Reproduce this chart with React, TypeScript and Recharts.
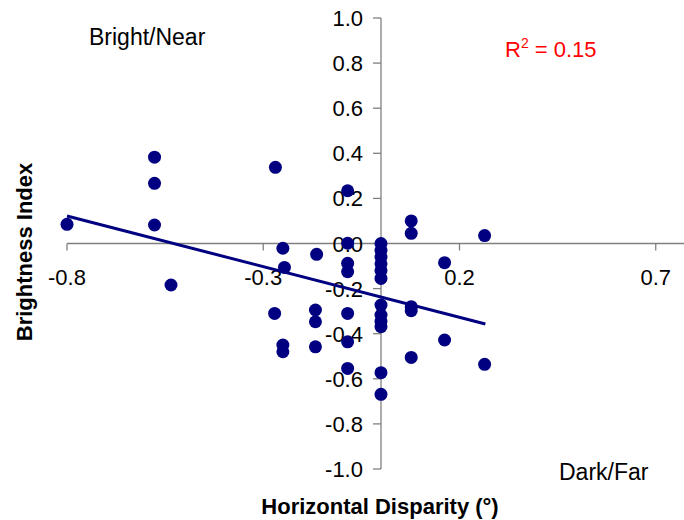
import React from 'react';
import { ScatterChart, Scatter, XAxis, YAxis, ReferenceLine, ReferenceDot } from 'recharts';

const xValues = [
  -0.8, -0.577, -0.577, -0.577, -0.535, -0.269, -0.085, -0.25, -0.164, -0.085,
  -0.246, -0.085, -0.085, 0, 0, 0, 0, 0, 0, 0.077,
  0.077, 0.264, 0.162, 0.077, 0.077, 0, 0, 0, 0, -0.271,
  -0.167, -0.167, -0.085, -0.25, -0.25, -0.167, -0.085, 0.162, 0.077, 0.264,
  -0.085, 0, 0,
];
const yValues = [
  0.085, 0.383, 0.267, 0.082, -0.184, 0.338, 0.234, -0.021, -0.048, 0.001,
  -0.106, -0.088, -0.125, 0.0, -0.03, -0.06, -0.09, -0.12, -0.155, 0.1,
  0.045, 0.035, -0.085, -0.28, -0.298, -0.273, -0.317, -0.345, -0.369, -0.31,
  -0.295, -0.347, -0.31, -0.45, -0.48, -0.458, -0.436, -0.428, -0.505, -0.536,
  -0.554, -0.573, -0.669,
];
const trendX = [-0.8, 0.266];
const trendY = [0.122, -0.357];
const xTicks = [-0.8, -0.3, 0.2, 0.7];
const yTicks = [1.0, 0.8, 0.6, 0.4, 0.2, 0.0, -0.2, -0.4, -0.6, -0.8, -1.0];

const points = xValues.map((x, i) => ({ x, y: yValues[i] }));
const trend = trendX.map((x, i) => ({ x, y: trendY[i] }));

const FONT = 'Arial, "Liberation Sans", sans-serif';
const NAVY = '#000080';
const AXIS = '#808080';

const Dot = (p: any) => <circle cx={p.cx} cy={p.cy} r={6.5} fill={NAVY} />;

export default function App() {
  return (
    <div style={{ position: 'absolute', left: 0, top: 0, width: 684, height: 520, background: '#fff' }}>
      <ScatterChart width={684} height={520} margin={{ top: 18, right: 0, bottom: 51, left: 67 }}>
        <XAxis type="number" dataKey="x" domain={[-0.8, 0.772]} hide />
        <YAxis type="number" dataKey="y" domain={[-1, 1]} hide />
        <ReferenceLine y={0} stroke={AXIS} strokeWidth={1.3} />
        <ReferenceLine x={0} stroke={AXIS} strokeWidth={1.3} />
        {xTicks.map((t) => (
          <ReferenceDot
            key={'xt' + t}
            x={t}
            y={0}
            r={1}
            shape={(p: any) => (
              <g>
                <line x1={p.cx} y1={p.cy} x2={p.cx} y2={p.cy + 7} stroke={AXIS} strokeWidth={1.3} />
                <text x={p.cx} y={p.cy + 41} textAnchor="middle" fontSize={22} fontFamily={FONT} fill="#000">
                  {t.toFixed(1)}
                </text>
              </g>
            )}
          />
        ))}
        {yTicks.map((t) => (
          <ReferenceDot
            key={'yt' + t}
            x={0}
            y={t}
            r={1}
            shape={(p: any) => (
              <g>
                <line x1={p.cx - 8} y1={p.cy} x2={p.cx} y2={p.cy} stroke={AXIS} strokeWidth={1.3} />
                <text x={p.cx - 18} y={p.cy + 8} textAnchor="end" fontSize={22} fontFamily={FONT} fill="#000">
                  {t.toFixed(1)}
                </text>
              </g>
            )}
          />
        ))}
        <Scatter data={points} shape={Dot} isAnimationActive={false} />
        <Scatter
          data={trend}
          line={{ stroke: NAVY, strokeWidth: 3 }}
          shape={() => <g />}
          isAnimationActive={false}
        />
      </ScatterChart>
      <svg
        width={684}
        height={520}
        style={{ position: 'absolute', left: 0, top: 0, pointerEvents: 'none' }}
      >
        <text x={89} y={45} fontSize={23} fontFamily={FONT} fill="#000">Bright/Near</text>
        <text x={559} y={480} fontSize={23} fontFamily={FONT} fill="#000">Dark/Far</text>
        <text x={505} y={57} fontSize={22} fontFamily={FONT} fill="#ff0000">
          R<tspan dy={-9} fontSize={14}>2</tspan>
          <tspan dy={9}> = 0.15</tspan>
        </text>
        <text
          x={24}
          y={252}
          transform="rotate(-90 24 252)"
          textAnchor="middle"
          dominantBaseline="central"
          fontSize={22}
          fontWeight="bold"
          fontFamily={FONT}
          fill="#000"
        >
          Brightness Index
        </text>
        <text x={380} y={514} textAnchor="middle" fontSize={22} fontWeight="bold" fontFamily={FONT} fill="#000">
          Horizontal Disparity (°)
        </text>
      </svg>
    </div>
  );
}
